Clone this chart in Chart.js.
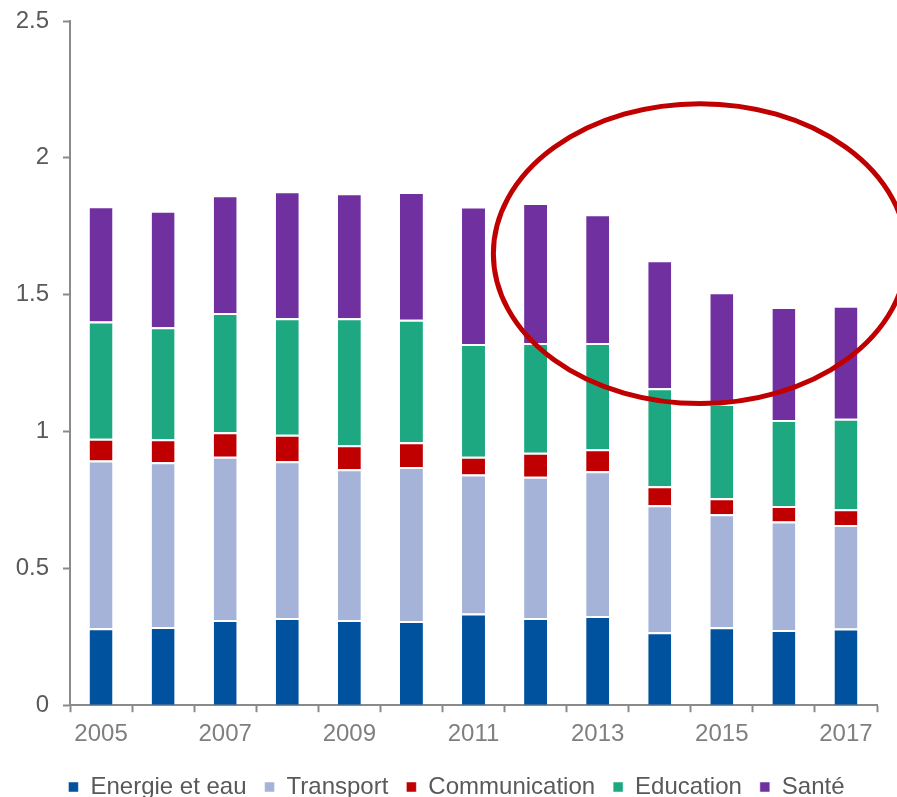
<!DOCTYPE html>
<html>
<head>
<meta charset="utf-8">
<script src="https://cdn.jsdelivr.net/npm/chart.js@4.4.1/dist/chart.umd.min.js"></script>
<style>
  html, body { margin: 0; padding: 0; background: #fff; overflow: hidden; }
  #wrap { width: 897px; height: 809px; position: relative; }
</style>
</head>
<body>
<div id="wrap"><canvas id="chart"></canvas></div>
<script>
/* data */
const annees = ["2005", "2006", "2007", "2008", "2009", "2010", "2011", "2012", "2013", "2014", "2015", "2016", "2017"];
const energie = [0.281, 0.286, 0.311, 0.319, 0.311, 0.308, 0.335, 0.319, 0.326, 0.267, 0.285, 0.275, 0.280];
const transport = [0.613, 0.602, 0.597, 0.572, 0.551, 0.562, 0.508, 0.516, 0.529, 0.464, 0.413, 0.396, 0.378];
const communication = [0.080, 0.084, 0.089, 0.097, 0.088, 0.091, 0.065, 0.087, 0.080, 0.069, 0.058, 0.057, 0.058];
const education = [0.428, 0.409, 0.436, 0.426, 0.464, 0.447, 0.412, 0.401, 0.388, 0.358, 0.345, 0.314, 0.331];
const sante = [0.421, 0.426, 0.430, 0.464, 0.457, 0.467, 0.502, 0.512, 0.471, 0.468, 0.408, 0.413, 0.413];
const yTicks = [0, 0.5, 1, 1.5, 2, 2.5];

const gris = "#8a8a8a";
const police = "Liberation Sans, Arial, sans-serif";

function serie(label, data, couleur) {
  return {
    label: label,
    data: data,
    backgroundColor: couleur,
    borderColor: "#ffffff",
    borderWidth: { top: 2, left: 0, right: 0, bottom: 0 },
    borderSkipped: false,
  };
}

/* ellipse rouge (annotation) + petit décalage de la légende */
const ellipsePlugin = {
  id: "ellipse",
  afterLayout(chart) {
    chart.legend.left += 10;
    chart.legend.right += 10;
  },
  afterDatasetsDraw(chart) {
    const x = chart.scales.x;
    const y = chart.scales.y;
    const cx = x.getPixelForValue(9.65);
    const cy = y.getPixelForValue(1.65);
    const rx = x.getPixelForValue(9.65 + 3.33) - cx;
    const ry = y.getPixelForValue(1.65) - y.getPixelForValue(1.65 + 0.548);
    const ctx = chart.ctx;
    ctx.save();
    ctx.beginPath();
    ctx.ellipse(cx, cy, rx, ry, 0, 0, Math.PI * 2);
    ctx.lineWidth = 5;
    ctx.strokeStyle = "#C00000";
    ctx.stroke();
    ctx.restore();
  },
};

new Chart(document.getElementById("chart"), {
  type: "bar",
  data: {
    labels: annees,
    datasets: [
      serie("Energie et eau", energie, "#00529E"),
      serie("Transport", transport, "#A6B3D8"),
      serie("Communication", communication, "#C00000"),
      serie("Education", education, "#1DA881"),
      serie("Santé", sante, "#7030A0"),
    ],
  },
  options: {
    responsive: true,
    maintainAspectRatio: false,
    animation: false,
    devicePixelRatio: 1,
    datasets: {
      bar: { categoryPercentage: 1, barPercentage: 0.37 },
    },
    layout: {
      padding: { left: 16, right: 20, top: 21, bottom: 0 },
    },
    plugins: {
      tooltip: { enabled: false },
      legend: {
        position: "bottom",
        labels: {
          boxWidth: 10,
          boxHeight: 10,
          padding: 18,
          color: "#595959",
          font: { family: police, size: 24 },
        },
      },
    },
    scales: {
      x: {
        stacked: true,
        border: { color: gris, width: 2 },
        grid: {
          offset: true,
          drawOnChartArea: false,
          drawTicks: true,
          tickLength: 7,
          tickWidth: 2,
          tickColor: gris,
        },
        ticks: {
          autoSkip: false,
          maxRotation: 0,
          padding: 8,
          color: "#7f7f7f",
          font: { family: police, size: 24 },
          callback: function (val, i) {
            return i % 2 === 0 ? annees[i] : "";
          },
        },
      },
      y: {
        stacked: true,
        min: 0,
        max: 2.5,
        afterBuildTicks: function (axis) {
          axis.ticks = yTicks.map(function (v) { return { value: v }; });
        },
        afterFit: function (axis) {
          axis.width = 54;
          axis.paddingTop = 0;
          axis.paddingBottom = 0;
        },
        border: { color: gris, width: 2 },
        grid: {
          drawOnChartArea: false,
          tickLength: 7,
          tickWidth: 2,
          tickColor: gris,
        },
        ticks: {
          padding: 14,
          color: "#595959",
          font: { family: police, size: 24 },
          callback: function (v) { return String(v); },
        },
      },
    },
  },
  plugins: [ellipsePlugin],
});
</script>
</body>
</html>
